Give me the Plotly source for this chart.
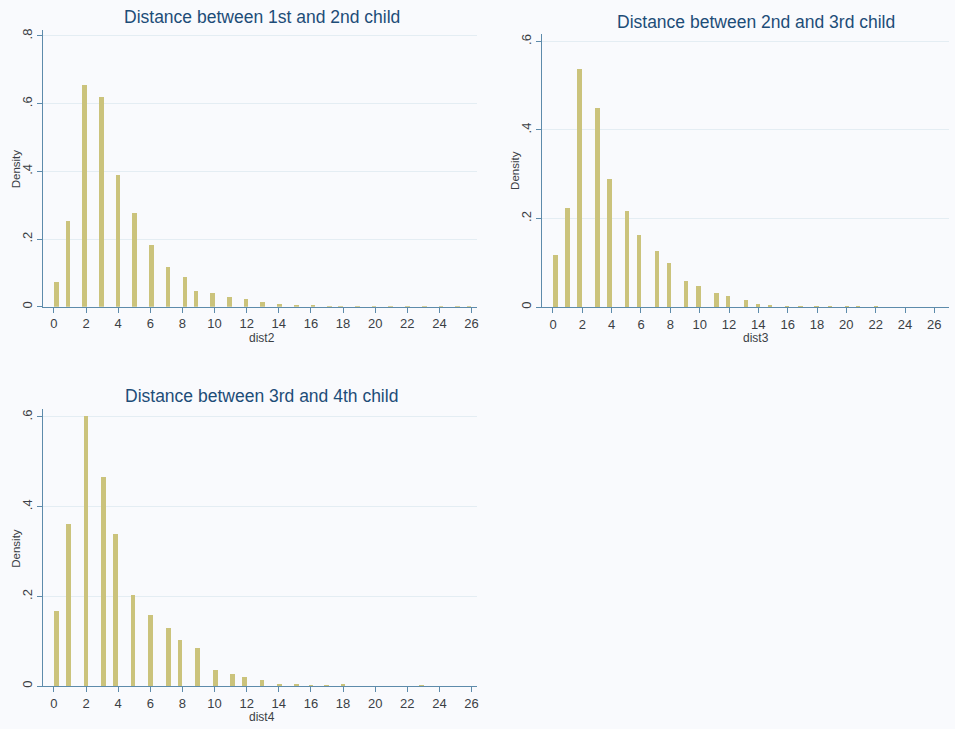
import plotly.graph_objects as go

# Histogram bin midpoints (years) and densities for each birth-spacing variable
dist2_mid = [0.17, 0.87, 1.91, 2.95, 3.99, 5.03, 6.07, 7.11, 8.15, 8.84, 9.88, 10.92,
             11.96, 13.00, 14.04, 15.08, 16.12, 17.16, 17.85, 18.89, 19.93, 20.97,
             22.01, 23.05, 24.09, 25.13, 25.83]
dist2_den = [0.073, 0.254, 0.655, 0.620, 0.391, 0.278, 0.182, 0.119, 0.089, 0.047,
             0.040, 0.028, 0.024, 0.015, 0.009, 0.005, 0.003, 0.002, 0.002, 0.001,
             0.001, 0.001, 0.001, 0.001, 0.001, 0.001, 0.001]

dist3_mid = [0.20, 1.02, 1.83, 3.06, 3.88, 5.08, 5.90, 7.12, 7.93, 9.12, 9.95, 11.17,
             11.96, 13.18, 14.02, 14.84, 16.00, 16.90, 18.00, 18.90, 20.05, 20.80, 22.06]
dist3_den = [0.117, 0.225, 0.537, 0.450, 0.290, 0.218, 0.163, 0.128, 0.100, 0.058,
             0.048, 0.031, 0.026, 0.017, 0.0075, 0.004, 0.003, 0.002, 0.001, 0.002,
             0.001, 0.002, 0.001]

dist4_mid = [0.18, 0.91, 2.00, 3.10, 3.83, 4.93, 6.02, 7.12, 7.85, 8.94, 10.04, 11.13,
             11.86, 12.96, 14.05, 15.10, 16.00, 16.97, 18.00, 22.90]
dist4_den = [0.167, 0.361, 0.602, 0.465, 0.339, 0.202, 0.157, 0.129, 0.102, 0.084,
             0.036, 0.027, 0.020, 0.013, 0.005, 0.002, 0.001, 0.001, 0.002, 0.001]

x_ticks = list(range(0, 27, 2))
y_ticks_08 = [0, 0.2, 0.4, 0.6, 0.8]
y_text_08 = ["0", ".2", ".4", ".6", ".8"]
y_ticks_06 = [0, 0.2, 0.4, 0.6]
y_text_06 = ["0", ".2", ".4", ".6"]

titles = ["Distance between 1st and 2nd child",
          "Distance between 2nd and 3rd child",
          "Distance between 3rd and 4th child"]
x_titles = ["dist2", "dist3", "dist4"]

W, H = 955, 729
BAR = "#cbc37c"
AXIS = "#5d8bab"
GRID = "#e4edf3"
BG = "#f9fafd"
TITLE_C = "#1d4d78"
TEXT_C = "#3b3f45"
FONT = "Liberation Sans, Arial, sans-serif"


def px_x(p):
    return p / W


def px_y(p):
    return 1 - p / H


# pixel boxes: left, right, top, bottom
boxes = [(43, 478, 29, 307), (543, 950, 33, 307.3), (43, 478, 410, 688)]
xranges = [[-0.68, 26.37], [-0.72, 27.0], [-0.68, 26.37]]
yranges = [[0, 0.818], [0, 0.617], [0, 0.617]]
yticks = [(y_ticks_08, y_text_08), (y_ticks_06, y_text_06), (y_ticks_06, y_text_06)]
series = [(dist2_mid, dist2_den), (dist3_mid, dist3_den), (dist4_mid, dist4_den)]
title_pos = [(262, 16), (757, 21), (262, 397)]
xtitle_x = [262, 757, 262]

fig = go.Figure()
layout = dict(
    width=W, height=H,
    margin=dict(l=0, r=0, t=0, b=0),
    paper_bgcolor=BG, plot_bgcolor=BG,
    showlegend=False, bargap=0,
    font=dict(family=FONT, size=11, color=TEXT_C),
)
annotations = []

for i, ((l, r, t, b), (xm, yd)) in enumerate(zip(boxes, series)):
    n = "" if i == 0 else str(i + 1)
    fig.add_trace(go.Bar(x=xm, y=yd, width=0.29, marker=dict(color=BAR, line=dict(width=0)),
                         xaxis="x" + n, yaxis="y" + n))
    layout["xaxis" + n] = dict(
        domain=[px_x(l), px_x(r)], anchor="y" + n, range=xranges[i],
        tickmode="array", tickvals=x_ticks, ticks="outside", ticklen=5, tickcolor=AXIS,
        showline=True, linecolor=AXIS, linewidth=1, showgrid=False, zeroline=False,
        tickfont=dict(size=13, color=TEXT_C),
    )
    tv, tt = yticks[i]
    layout["yaxis" + n] = dict(
        domain=[px_y(b), px_y(t)], anchor="x" + n, range=yranges[i],
        tickmode="array", tickvals=tv, ticktext=tt, tickangle=-90,
        ticks="outside", ticklen=5, tickcolor=AXIS,
        showline=True, linecolor=AXIS, linewidth=1,
        showgrid=True, gridcolor=GRID, gridwidth=1, zeroline=False,
        tickfont=dict(size=13, color=TEXT_C),
    )
    tx, ty = title_pos[i]
    annotations.append(dict(text=titles[i], x=px_x(tx), y=px_y(ty),
                            xref="paper", yref="paper",
                            showarrow=False, xanchor="center", yanchor="middle",
                            font=dict(size=17.5, color=TITLE_C, family=FONT)))
    annotations.append(dict(text=x_titles[i], x=px_x(xtitle_x[i]),
                            y=px_y(b + 31), xref="paper", yref="paper",
                            showarrow=False, xanchor="center", yanchor="middle",
                            font=dict(size=12, color=TEXT_C, family=FONT)))
    annotations.append(dict(text="Density", x=px_x(l - 27), y=px_y((t + b) / 2),
                            xref="paper", yref="paper", textangle=-90,
                            showarrow=False, xanchor="center", yanchor="middle",
                            font=dict(size=11.5, color=TEXT_C, family=FONT)))

layout["annotations"] = annotations
fig.update_layout(**layout)
fig.write_html("out.html")
